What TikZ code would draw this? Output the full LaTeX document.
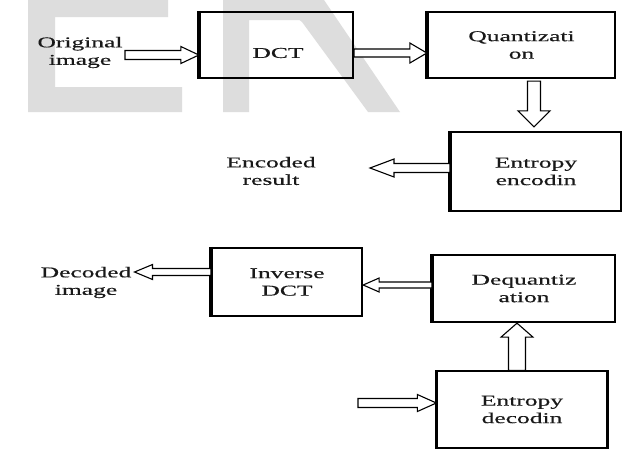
\documentclass[tikz,border=0pt]{standalone}
\usepackage{fontspec}
\setmainfont{Liberation Serif}
\newfontfamily\diagfont[FakeStretch=1.7,FakeBold=0.4]{Liberation Serif}
\usetikzlibrary{calc}
\definecolor{wm}{RGB}{221,221,221}
\definecolor{ink}{RGB}{25,25,25}
\tikzset{
  box/.style={draw=black, line width=2.3pt, inner sep=0pt, align=center, text=ink},
  thinbox/.style={draw=black, line width=1.3pt, inner sep=0pt, align=center, text=ink},
  lbl/.style={align=center, inner sep=0pt, text=ink},
  barrow/.style n args={3}{draw=black, line width=1.1pt, fill=white, line join=miter,
    to path={let \p1=(\tikztostart), \p2=(\tikztotarget), \p3=($(\p2)!#3!(\p1)$) in
      ($(\p1)!#1!90:(\p2)$) -- ($(\p3)!#1!-90:(\p1)$) -- ($(\p3)!#2!-90:(\p1)$) -- (\p2)
      -- ($(\p3)!#2!90:(\p1)$) -- ($(\p3)!#1!90:(\p1)$) -- ($(\p1)!#1!-90:(\p2)$) -- cycle}},
}
\begin{document}
\begin{tikzpicture}[x=1pt,y=-1pt,font=\diagfont\fontsize{15}{17.5}\selectfont]
\useasboundingbox (0,0) rectangle (626,451);
\fill[white] (0,0) rectangle (626,451);
% watermark letters
\fill[wm] (28,0) -- (168,0) -- (168,17) -- (55,17) -- (55,87) -- (182,87) -- (182,112) -- (28,112) -- cycle;
\fill[wm] (223,0) -- (324,0) -- (400,112) -- (368,112) -- (302,22) .. controls (300,20) .. (296,20) -- (249,20) -- (249,112) -- (223,112) -- cycle;

% boxes
\node[box, minimum width=153pt, minimum height=66pt] (dct) at (276.5,45) {};
\node[lbl] (dcttxt) at (278,53) {DCT};
\node[box, minimum width=187pt, minimum height=66pt] (quant) at (521.5,45) {Quantizati\\on};
\node[box, minimum width=170pt, minimum height=79pt] (enc) at (536,171.5) {Entropy\\encodin};
\node[box, minimum width=150pt, minimum height=68pt] (idct) at (287,282) {Inverse\\DCT};
\node[box, minimum width=182pt, minimum height=67pt] (deq) at (524,288.5) {Dequantiz\\ation};
\node[thinbox, minimum width=170pt, minimum height=77pt] (dec) at (522,409.5) {Entropy\\decodin};

% thicker left edges
\foreach \b in {dct,quant,enc,idct,deq}{
  \draw[line width=3.4pt] (\b.north west) -- (\b.south west);
}
\draw[line width=2pt] (dec.north west) -- (dec.south west);
\draw[line width=2pt] (dec.north east) -- (dec.south east);

% free texts
\node[lbl] (orig) at (80,52.5) {Original\\image};
\node[lbl] (encres) at (271,171) {Encoded\\result};
\node[lbl] (decimg) at (86,282.5) {Decoded\\image};

% connectors
\coordinate (a1) at (125,55);
\draw[barrow={4.5pt}{8.5pt}{18pt}] (a1) to (a1 -| dct.west);
\draw[barrow={4pt}{10pt}{17pt}] (dct.east |- 0,53) to (quant.west |- 0,53);
\draw[barrow={6.5pt}{16pt}{16pt}] ($(534,0 |- quant.south)+(0,2)$) to ($(534,0 |- enc.north)+(0,-4)$);
\coordinate (a4) at (370,168);
\draw[barrow={4.5pt}{9pt}{24pt}] (enc.west |- a4) to (a4);
\draw[barrow={3.5pt}{7.5pt}{18pt}] (idct.west |- 0,272) to ($(decimg.east |- 0,272)+(3,0)$);
\draw[barrow={3pt}{7pt}{16pt}] (deq.west |- 0,285) to (idct.east |- 0,285);
\draw[barrow={8.5pt}{16pt}{14pt}] (517,0 |- dec.north) to (517,0 |- deq.south);
\coordinate (a8) at (358,403);
\draw[barrow={4.5pt}{8.5pt}{19pt}] (a8) to (a8 -| dec.west);
\end{tikzpicture}
\end{document}
